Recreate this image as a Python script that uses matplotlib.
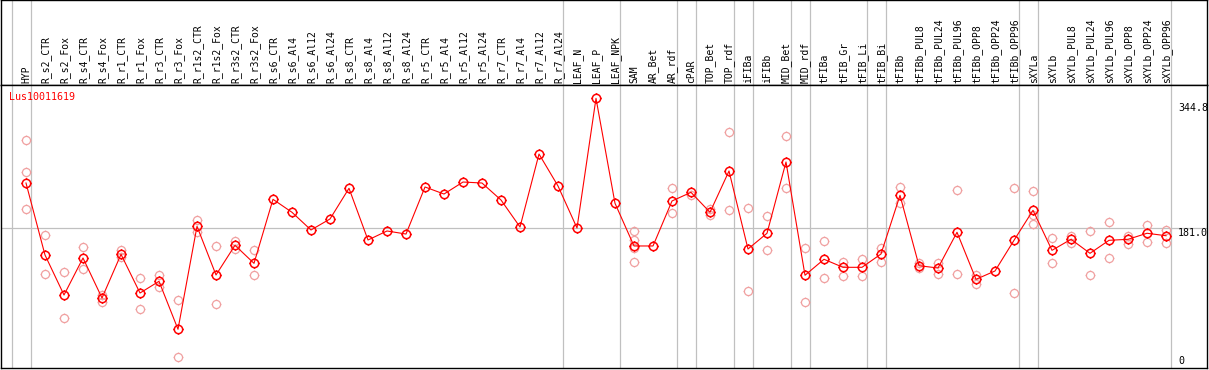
import numpy as np
import matplotlib
matplotlib.use('Agg')
import matplotlib.pyplot as plt
from matplotlib.path import Path

# sample names along the top
samples = ['HYP', 'R_s2_CTR', 'R_s2_Fox', 'R_s4_CTR', 'R_s4_Fox', 'R_r1_CTR', 'R_r1_Fox',
           'R_r3_CTR', 'R_r3_Fox', 'R_r1s2_CTR', 'R_r1s2_Fox', 'R_r3s2_CTR', 'R_r3s2_Fox',
           'R_s6_CTR', 'R_s6_Al4', 'R_s6_Al12', 'R_s6_Al24', 'R_s8_CTR', 'R_s8_Al4',
           'R_s8_Al12', 'R_s8_Al24', 'R_r5_CTR', 'R_r5_Al4', 'R_r5_Al12', 'R_r5_Al24',
           'R_r7_CTR', 'R_r7_Al4', 'R_r7_Al12', 'R_r7_Al24', 'LEAF_N', 'LEAF_P', 'LEAF_NPK',
           'SAM', 'AR_Bet', 'AR_rdf', 'cPAR', 'TOP_Bet', 'TOP_rdf', 'iFIBa', 'iFIBb',
           'MID_Bet', 'MID_rdf', 'tFIBa', 'tFIB_Gr', 'tFIB_Li', 'tFIB_Bi', 'tFIBb',
           'tFIBb_PUL8', 'tFIBb_PUL24', 'tFIBb_PUL96', 'tFIBb_OPP8', 'tFIBb_OPP24',
           'tFIBb_OPP96', 'sXYLa', 'sXYLb', 'sXYLb_PUL8', 'sXYLb_PUL24', 'sXYLb_PUL96',
           'sXYLb_OPP8', 'sXYLb_OPP24', 'sXYLb_OPP96']

# mean expression per sample
means = [240.2, 146.1, 93.8, 142.2, 89.9, 147.0, 96.4, 111.7, 49.0, 183.6, 120.0, 158.8, 135.2,
         218.9, 201.9, 178.8, 193.2, 233.3, 165.7, 177.5, 173.5, 235.0, 225.8, 241.5, 240.2,
         218.0, 182.7, 278.1, 236.3, 181.4, 350.9, 213.7,
         157.9, 157.9, 216.7, 228.0, 201.9, 255.9, 153.9, 174.5, 267.7, 119.6,
         140.5, 130.0, 130.0, 147.4, 224.1, 132.1, 129.1, 175.8, 114.3, 125.2, 165.3,
         204.5, 152.2, 166.6, 148.3, 165.3, 166.6, 174.5, 171.3]

# replicate values per sample
reps = [[296.0, 254.2, 205.8], [171.8, 121.3], [123.5, 63.3], [156.2, 127.8], [93.8, 85.0],
        [152.6, 143.1], [115.6, 75.1], [120.0, 104.7], [86.9, 12.4], [191.9, 175.8],
        [157.5, 82.0], [164.4, 153.9], [152.2, 120.0],
        [], [], [], [], [], [], [], [], [], [], [], [], [], [], [], [], [], [], [],
        [177.5, 165.7, 154.9, 137.0], [], [233.3, 200.6], [224.5], [206.2, 198.4],
        [306.9, 204.9], [207.5, 99.0], [197.1, 152.2], [301.7, 233.3], [154.9, 84.3],
        [164.0, 115.6], [137.3, 118.6], [140.9, 118.6], [155.6, 136.6], [234.6, 213.7],
        [135.2, 129.5], [136.1, 121.3], [230.7, 120.9], [120.0, 108.6], [], [233.3, 96.0],
        [229.4, 198.4, 186.2], [167.9, 135.2], [171.3, 161.4], [177.5, 119.6],
        [188.8, 141.8], [171.3, 160.9], [185.3, 163.5], [178.8, 162.2]]

group_breaks = [-1, 0, 28, 31, 34, 35, 37, 38, 40, 41, 44, 45, 52, 53, 60]
y_max = 344.8
y_mid = 181.0

W, H = 1209, 370
fig = plt.figure(figsize=(W / 100, H / 100), dpi=100)
font = 'DejaVu Sans Mono'
x = np.arange(len(samples))
xlim = ((1 - 26) / 19, (1207 - 26) / 19)

# marker: open circle with four little ticks
circ = Path.circle((0, 0), 1.0)
tk = 1.2
ticks = Path([(1, 0), (tk, 0), (-1, 0), (-tk, 0), (0, 1), (0, tk), (0, -1), (0, -tk)],
             [Path.MOVETO, Path.LINETO] * 4)
mk = Path.make_compound_path(circ, ticks)

# header with sample names
hx = fig.add_axes([1 / W, (H - 85) / H, 1206 / W, 85 / H])
hx.set_xlim(xlim)
hx.set_ylim(0, 85)
hx.set_xticks([])
hx.set_yticks([])
for s in hx.spines.values():
    s.set_linewidth(1.0)
for i, name in enumerate(samples):
    hx.text(i + 0.03, 2, name, rotation=90, ha='center', va='bottom',
            fontsize=7.0, family=font, color='black')
for b in group_breaks:
    hx.axvline(b + 0.24, color='#c0c0c0', lw=0.9)

# plot area
ax = fig.add_axes([1 / W, 2 / H, 1206 / W, 283 / H])
ax.set_xlim(xlim)
ax.set_ylim(181 + (228.3 - 368) * 1.3073, 181 + (228.3 - 85) * 1.3073)
ax.set_xticks([])
ax.set_yticks([])
for s in ax.spines.values():
    s.set_linewidth(1.0)
for b in group_breaks:
    ax.axvline(b + 0.24, color='#c0c0c0', lw=0.9, zorder=1)
ax.axhline(y_mid, color='#c0c0c0', lw=0.9, zorder=1)

for i, r in enumerate(reps):
    if r:
        ax.plot([i] * len(r), r, ls='none', marker=mk, ms=7.0, mfc='none',
                mec='#f0a0a0', mew=0.9, zorder=2)

ax.plot(x, means, color='red', lw=0.8, zorder=3)
ax.plot(x, means, ls='none', marker=mk, ms=7.2, mfc='none', mec='red', mew=1.1, zorder=4)

ax.text(-0.9, 353, 'Lus10011619', color='red', fontsize=7.2, family=font,
        ha='left', va='center')
xl = (1178 - 26) / 19
ax.text(xl, y_max, '%.1f' % y_max, fontsize=7.2, family=font, ha='left', va='top')
ax.text(xl, y_mid, '%.1f' % y_mid, fontsize=7.2, family=font, ha='left', va='top')
ax.text(xl, 1, '0', fontsize=7.2, family=font, ha='left', va='bottom')

plt.savefig('out.png', dpi=100)
